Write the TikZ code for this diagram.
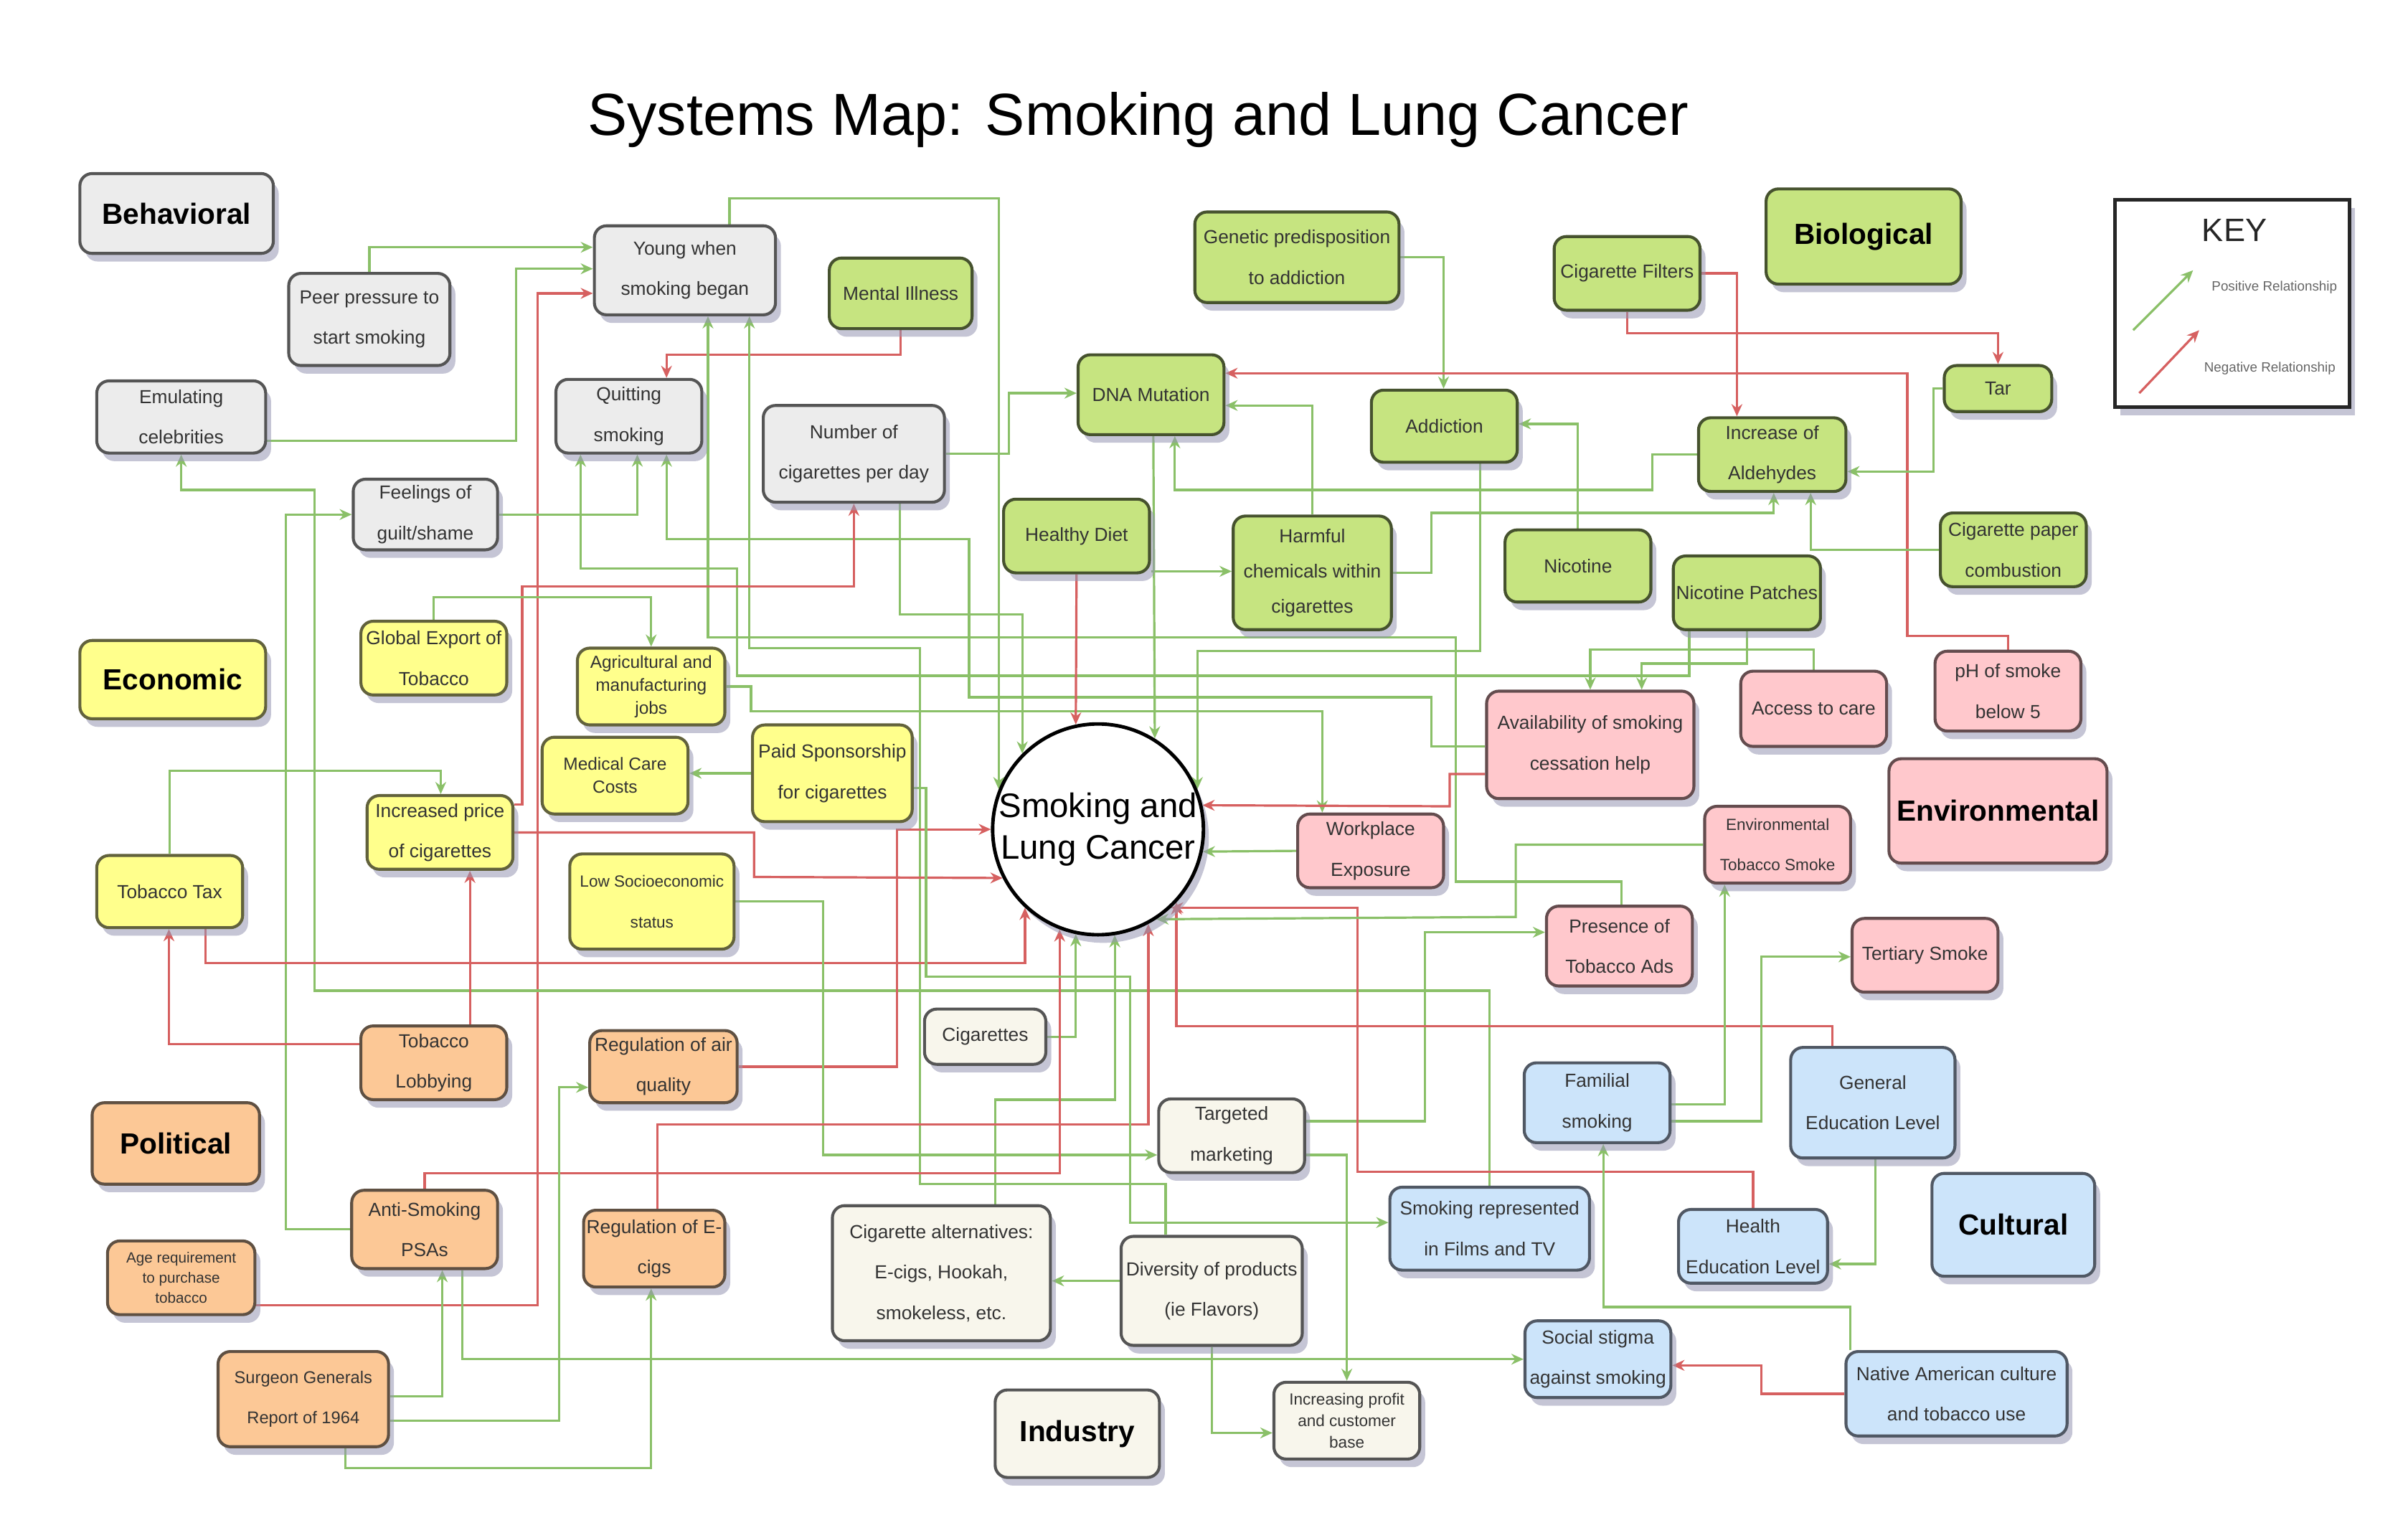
\documentclass[tikz,border=0pt]{standalone}
\usepackage{fontspec}
\setmainfont{Liberation Sans}
\usetikzlibrary{arrows.meta,shadows,backgrounds}

\definecolor{behfill}{RGB}{236,236,236}
\definecolor{behline}{RGB}{85,85,85}
\definecolor{biofill}{RGB}{198,228,128}
\definecolor{bioline}{RGB}{70,82,46}
\definecolor{ecofill}{RGB}{255,255,140}
\definecolor{ecoline}{RGB}{98,98,60}
\definecolor{envfill}{RGB}{255,200,204}
\definecolor{envline}{RGB}{100,76,78}
\definecolor{polfill}{RGB}{252,200,150}
\definecolor{polline}{RGB}{95,80,66}
\definecolor{culfill}{RGB}{204,228,250}
\definecolor{culline}{RGB}{80,88,100}
\definecolor{indfill}{RGB}{248,246,236}
\definecolor{indline}{RGB}{85,85,85}
\definecolor{posline}{RGB}{138,192,104}
\definecolor{negline}{RGB}{214,96,96}
\definecolor{shadowc}{RGB}{150,150,178}

\begin{document}
\begin{tikzpicture}[x=0.02cm, y=-0.02cm,
    factor/.style={rectangle, rounded corners=0.16cm, draw, line width=1.1pt, align=center, inner sep=1pt,
        text=black!80, font=\fontsize{7}{15}\selectfont, minimum width=1.9cm, minimum height=0.96cm,
        drop shadow={shadow xshift=2pt, shadow yshift=-3pt, opacity=0.55, fill=shadowc}},
    catbox/.style={factor, text=black, font=\bfseries\fontsize{10.8}{13}\selectfont},
    tighttext/.style={font=\fontsize{6.5}{8.5}\selectfont},
    beh/.style={fill=behfill, draw=behline},
    bio/.style={fill=biofill, draw=bioline},
    eco/.style={fill=ecofill, draw=ecoline},
    env/.style={fill=envfill, draw=envline},
    pol/.style={fill=polfill, draw=polline},
    cul/.style={fill=culfill, draw=culline},
    ind/.style={fill=indfill, draw=indline},
    posarrow/.style={draw=posline, line width=0.85pt, -{Stealth[length=4.5pt, width=4pt]}},
    negarrow/.style={draw=negline, line width=0.85pt, -{Stealth[length=4.5pt, width=4pt]}},
    keytext/.style={font=\fontsize{5}{6}\selectfont, text=black!60}
]
    \useasboundingbox (0,0) rectangle (1568,1001);

    % Title
    \node[font=\fontsize{22}{26}\selectfont] (title) at (741,78) {Systems Map: Smoking and Lung Cancer};

    % Centre
    \node[circle, draw, line width=1.3pt, fill=white, minimum size=2.72cm, inner sep=0pt, align=center,
        font=\fontsize{12.6}{15.4}\selectfont,
        drop shadow={shadow xshift=2pt, shadow yshift=-3pt, opacity=0.55, fill=shadowc}] (cancer) at (715,540) {Smoking and\\Lung Cancer};

    % Behavioral
    \node[catbox, beh, minimum width=2.52cm, minimum height=1.04cm] (behav) at (115,139) {Behavioral};
    \node[factor, beh, minimum width=2.1cm, minimum height=1.2cm] (peer) at (240.5,208) {Peer pressure to\\start smoking};
    \node[factor, beh, minimum width=2.2cm, minimum height=0.94cm] (emul) at (118,271.5) {Emulating\\celebrities};
    \node[factor, beh, minimum width=2.36cm, minimum height=1.16cm] (young) at (446,176) {Young when\\smoking began};
    \node[factor, beh] (quit) at (409.5,271) {Quitting\\smoking};
    \node[factor, beh, minimum width=1.88cm, minimum height=0.92cm] (feel) at (277,335) {Feelings of\\guilt/shame};
    \node[factor, beh, minimum width=2.36cm, minimum height=1.26cm] (number) at (556,295.5) {Number of\\cigarettes per day};

    % Biological
    \node[catbox, bio, minimum width=2.54cm, minimum height=1.24cm] (biol) at (1213.5,154) {Biological};
    \node[factor, bio, minimum width=1.86cm, minimum height=0.92cm] (mental) at (586.5,191) {Mental Illness};
    \node[factor, bio, minimum width=2.66cm, minimum height=1.18cm] (genetic) at (844.5,167.5) {Genetic predisposition\\to addiction};
    \node[factor, bio, minimum height=1.04cm] (dna) at (749.5,257) {DNA Mutation};
    \node[factor, bio, minimum height=0.94cm] (addict) at (940.5,277.5) {Addiction};
    \node[factor, bio] (filters) at (1059.5,178) {Cigarette Filters};
    \node[factor, bio, minimum width=1.4cm, minimum height=0.6cm] (tar) at (1301,253) {Tar};
    \node[factor, bio, minimum width=1.92cm] (ald) at (1154,296) {Increase of\\Aldehydes};
    \node[factor, bio] (diet) at (701,349) {Healthy Diet};
    \node[factor, bio, minimum width=2.06cm, minimum height=1.48cm, font=\fontsize{7}{13}\selectfont] (harm) at (854.5,373) {Harmful\\chemicals within\\cigarettes};
    \node[factor, bio, minimum height=0.94cm] (nicotine) at (1027.5,368.5) {Nicotine};
    \node[factor, bio] (nicp) at (1137.5,386) {Nicotine Patches};
    \node[factor, bio] (paper) at (1311,358) {Cigarette paper\\combustion};

    % Economic
    \node[catbox, eco, minimum width=2.42cm, minimum height=1.02cm] (econ) at (112.5,442.5) {Economic};
    \node[factor, eco] (export) at (282.5,428.5) {Global Export of\\Tobacco};
    \node[factor, eco, tighttext, minimum width=1.92cm, minimum height=1cm] (agri) at (424,447) {Agricultural and\\manufacturing\\jobs};
    \node[factor, eco, tighttext, minimum height=1cm] (medical) at (400.5,505) {Medical Care\\Costs};
    \node[factor, eco, minimum width=2.08cm, minimum height=1.26cm] (paid) at (542,503.5) {Paid Sponsorship\\for cigarettes};
    \node[factor, eco] (price) at (286.5,542) {Increased price\\of cigarettes};
    \node[factor, eco, minimum height=0.94cm] (tax) at (110.5,580.5) {Tobacco Tax};
    \node[factor, eco, minimum width=2.14cm, minimum height=1.24cm, font=\fontsize{6}{15}\selectfont] (lowses) at (424.5,587) {Low Socioeconomic\\status};

    % Environmental
    \node[catbox, env, minimum width=2.84cm, minimum height=1.36cm] (envir) at (1301,528) {Environmental};
    \node[factor, env, minimum width=2.7cm, minimum height=1.4cm] (avail) at (1035.5,485) {Availability of smoking\\cessation help};
    \node[factor, env, minimum height=0.98cm] (access) at (1181,461.5) {Access to care};
    \node[factor, env, minimum height=1.04cm] (ph) at (1307.5,450) {pH of smoke\\below 5};
    \node[factor, env] (work) at (892.5,554) {Workplace\\Exposure};
    \node[factor, env, minimum height=1cm, font=\fontsize{6}{15}\selectfont] (ets) at (1157.5,550) {Environmental\\Tobacco Smoke};
    \node[factor, env, minimum height=1.04cm] (ads) at (1054.5,616) {Presence of\\Tobacco Ads};
    \node[factor, env] (tert) at (1253.5,622) {Tertiary Smoke};

    % Political
    \node[catbox, pol, minimum width=2.18cm, minimum height=1.06cm] (polit) at (114.5,744.5) {Political};
    \node[factor, pol] (lobby) at (282.5,692) {Tobacco\\Lobbying};
    \node[factor, pol, minimum width=1.92cm, minimum height=0.94cm] (regair) at (432,694.5) {Regulation of air\\quality};
    \node[factor, pol, minimum height=1.02cm] (anti) at (276.5,800.5) {Anti-Smoking\\PSAs};
    \node[factor, pol, minimum width=1.92cm, font=\fontsize{5.5}{7.5}\selectfont] (age) at (118,832) {Age requirement\\to purchase\\tobacco};
    \node[factor, pol, minimum width=1.84cm, minimum height=1cm] (regecig) at (426,813) {Regulation of E-\\cigs};
    \node[factor, pol, minimum width=2.22cm, minimum height=1.24cm, font=\fontsize{6.3}{15}\selectfont] (surgeon) at (197.5,911) {Surgeon Generals\\Report of 1964};

    % Cultural
    \node[catbox, cul, minimum width=2.12cm, minimum height=1.34cm] (cultural) at (1311,797.5) {Cultural};
    \node[factor, cul, minimum height=1.04cm] (familial) at (1040,718) {Familial\\smoking};
    \node[factor, cul, minimum width=2.14cm, minimum height=1.44cm] (gened) at (1219.5,718) {General\\Education Level};
    \node[factor, cul, minimum width=2.6cm, minimum height=1.08cm] (films) at (970,800) {Smoking represented\\in Films and TV};
    \node[factor, cul, minimum width=1.94cm] (healthed) at (1141.5,811.5) {Health\\Education Level};
    \node[factor, cul, minimum height=1cm] (stigma) at (1040.5,885) {Social stigma\\against smoking};
    \node[factor, cul, minimum width=2.88cm, minimum height=1.1cm] (native) at (1274,907.5) {Native American culture\\and tobacco use};

    % Industry
    \node[catbox, ind, minimum width=2.14cm, minimum height=1.14cm] (industry) at (701.5,933.5) {Industry};
    \node[factor, ind, minimum width=1.58cm, minimum height=0.72cm] (cigs) at (641.5,675) {Cigarettes};
    \node[factor, ind] (target) at (802,739.5) {Targeted\\marketing};
    \node[factor, ind, minimum width=2.84cm, minimum height=1.76cm] (alt) at (613,829) {Cigarette alternatives:\\E-cigs, Hookah,\\smokeless, etc.};
    \node[factor, ind, minimum width=2.36cm, minimum height=1.42cm] (divers) at (789,840.5) {Diversity of products\\(ie Flavors)};
    \node[factor, ind, minimum height=1cm, font=\fontsize{6}{8}\selectfont] (profit) at (877,925) {Increasing profit\\and customer\\base};

    % Key
    \node[draw=black!85, line width=1.4pt, fill=white, minimum width=3.06cm, minimum height=2.7cm,
        drop shadow={shadow xshift=2pt, shadow yshift=-3pt, opacity=0.55, fill=shadowc}] (key) at (1453.5,197.5) {};
    \node[font=\fontsize{12}{14}\selectfont, text=black!85] (keytitle) at (1455,150) {KEY};
    \coordinate (kpa) at (1389,215);
    \coordinate (kpb) at (1428,176);
    \coordinate (kna) at (1393,256);
    \coordinate (knb) at (1432,215);
    \draw[posarrow] (kpa) -- (kpb);
    \draw[negarrow] (kna) -- (knb);
    \node[keytext] (kpl) at (1481,187) {Positive Relationship};
    \node[keytext] (knl) at (1478,240) {Negative Relationship};

    % Connections
    \begin{pgfonlayer}{background}
    \draw[posarrow] (peer.north) |- (young.west |- 0,161);
    \draw[posarrow] (emul.east |- 0,287) -| (336,175) -- (young.west |- 0,175);
    \draw[negarrow] (age.east |- 0,850) -| (350,191) -- (young.west |- 0,191);
    \draw[negarrow] (mental.south) |- (434,231) -- (434,0 |- quit.north);
    \draw[posarrow] (475,0 |- young.north) |- (cancer.158 |- 0,129) -- (cancer.158);
    \draw[posarrow] (films.north) |- (205,645) |- (emul.south |- 0,319) -- (emul.south);
    \draw[posarrow] (anti.west) -| (186,335) -- (feel.west);
    \draw[posarrow] (feel.east) -| (415,0 |- quit.south);
    \draw[posarrow] (1100,0 |- nicp.south) |- (480,440) |- (378,370) -- (378,0 |- quit.south);
    \draw[posarrow] (nicp.south) |- (1069,432) -- (1069,0 |- avail.north);
    \draw[posarrow] (access.north) |- (avail.north |- 0,423) -- (avail.north);
    \draw[posarrow] (avail.west |- 0,486) -| (932,454) -| (631,351) -| (434,0 |- quit.south);
    \draw[posarrow] (1056,0 |- ads.north) |- (948,574) |- (461,415) -- (461,0 |- young.south);
    \draw[posarrow] (759,0 |- divers.north) |- (599,771) |- (488,422) -- (488,0 |- young.south);

    \draw[posarrow] (number.east) -| (657,256) -- (dna.west |- 0,256);
    \draw[negarrow] (price.east |- 0,524) -| (340,382) -| (556,0 |- number.south);
    \draw[negarrow] (price.east) -| (491,571) -- (cancer.207);
    \draw[negarrow] (regair.east) -| (584,540) -- (cancer.west);
    \draw[negarrow] (134,0 |- tax.south) |- (cancer.227 |- 0,627) -- (cancer.227);
    \draw[negarrow] (lobby.west |- 0,680) -| (110,0 |- tax.south);
    \draw[negarrow] (306,0 |- lobby.north) -- (306,0 |- price.south);
    \draw[posarrow] (tax.north) |- (287,502) -- (287,0 |- price.north);
    \draw[posarrow] (export.north) |- (424,389) -- (agri.north);
    \draw[posarrow] (agri.east) -| (489,463) -| (861,0 |- work.north);
    \draw[posarrow] (paid.west) -- (medical.east |- paid.west);
    \draw[posarrow] (lowses.east) -| (536,752) -- (target.west |- 0,752);

    \draw[posarrow] (target.east |- 0,752) -| (877,0 |- profit.north);
    \draw[posarrow] (target.east |- 0,730) -| (928,607) -- (ads.west |- 0,607);
    \draw[posarrow] (divers.west |- 0,834) -- (alt.east |- 0,834);
    \draw[posarrow] (divers.south) |- (profit.west |- 0,933);
    \draw[posarrow] (648,0 |- alt.north) |- (cancer.279 |- 0,716) -- (cancer.279);
    \draw[posarrow] (cigs.east) -| (cancer.258);
    \draw[negarrow] (anti.north) |- (cancer.249 |- 0,764) -- (cancer.249);
    \draw[negarrow] (428,0 |- regecig.north) |- (cancer.298 |- 0,732) -- (cancer.298);
    \draw[negarrow] (healthed.north) |- (884,763) |- (cancer.313);
    \draw[negarrow] (1193,0 |- gened.north) |- (cancer.317 |- 0,668) -- (cancer.317);
    \draw[posarrow] (1221,0 |- gened.south) |- (healthed.east |- 0,823);
    \draw[posarrow] (familial.east |- 0,719) -| (1123,0 |- ets.south);
    \draw[posarrow] (familial.east |- 0,730) -| (1147,623) -- (tert.west |- 0,623);
    \draw[posarrow] (1205,0 |- native.north) |- (1044,851) -- (1044,0 |- familial.south);
    \draw[negarrow] (native.west) -| (1147,889) -- (stigma.east |- 0,889);
    \draw[posarrow] (301,0 |- anti.south) |- (stigma.west |- 0,885);
    \draw[posarrow] (surgeon.east |- 0,909) -| (288,0 |- anti.south);
    \draw[posarrow] (surgeon.east |- 0,925) -| (364,708) -- (regair.west |- 0,708);
    \draw[posarrow] (225,0 |- surgeon.south) |- (424,956) -- (424,0 |- regecig.south);
    \draw[posarrow] (paid.east |- 0,513) -| (603,636) -| (736,796) -- (films.west |- 0,796);

    \draw[posarrow] (work.west) -- (cancer.348);
    \draw[negarrow] (avail.west |- 0,504) -| (944,525) -- (cancer.13);
    \draw[posarrow] (ets.west) -| (987,597) -- (cancer.303);
    \draw[posarrow] (genetic.east) -| (940,0 |- addict.north);
    \draw[negarrow] (filters.east) -| (1131,0 |- ald.north);
    \draw[negarrow] (filters.south) |- (tar.north |- 0,217) -- (tar.north);
    \draw[negarrow] (ph.north) |- (1242,414) |- (dna.east |- 0,243);
    \draw[posarrow] (tar.west) -| (1259,307) -- (ald.east |- 0,307);
    \draw[posarrow] (paper.west) -| (1179,0 |- ald.south);
    \draw[posarrow] (ald.west) -| (1076,319) -| (765,0 |- dna.south);
    \draw[posarrow] (harm.north) |- (dna.east |- 0,264);
    \draw[posarrow] (harm.east) -| (932,334) -| (1155,0 |- ald.south);
    \draw[posarrow] (diet.east |- 0,372) -- (harm.west |- 0,372);
    \draw[negarrow] (diet.south) -- (cancer.102);
    \draw[posarrow] (nicotine.north) |- (addict.east |- 0,276);
    \draw[posarrow] (964,0 |- addict.south) |- (cancer.22 |- 0,424) -- (cancer.22);
    \draw[posarrow] (586,0 |- number.south) |- (cancer.135 |- 0,400) -- (cancer.135);
    \draw[posarrow] (751,0 |- dna.south) -- (cancer.58);
    \end{pgfonlayer}
\end{tikzpicture}
\end{document}
